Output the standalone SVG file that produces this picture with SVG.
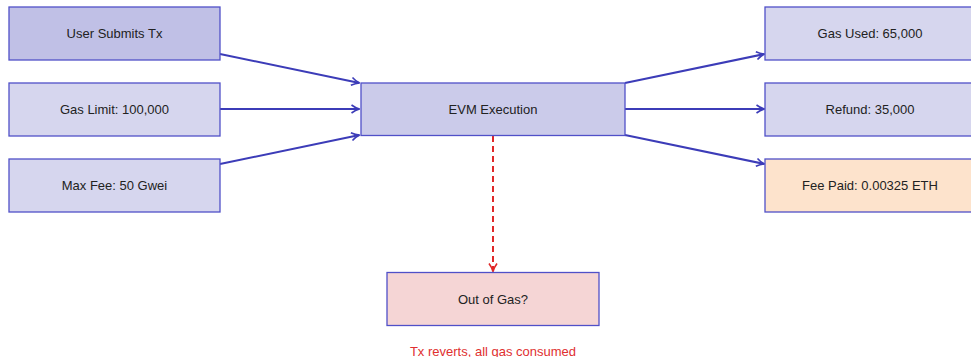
<svg xmlns="http://www.w3.org/2000/svg" width="971" height="357" viewBox="0 0 971 357">
<defs>
<style>
.box{stroke:#5050c8;stroke-width:1.3}
.lbl{font-family:"Liberation Sans",Arial,sans-serif;font-size:13px;fill:#222;text-anchor:middle;dominant-baseline:central}
.edge{stroke:#3c3cb8;stroke-width:2;fill:none}
.dash{stroke:#e02828;stroke-width:2;fill:none;stroke-dasharray:6,4}
</style>
<marker id="ah" viewBox="0 0 10 10" refX="9" refY="5" markerWidth="10" markerHeight="10" markerUnits="userSpaceOnUse" orient="auto">
<path d="M1,1 Q5,4 9,5 Q5,6 1,9" fill="none" stroke="#3c3cb8" stroke-width="1.6"/>
</marker>
<marker id="ahr" viewBox="0 0 10 10" refX="9" refY="5" markerWidth="10" markerHeight="10" markerUnits="userSpaceOnUse" orient="auto">
<path d="M1,1 Q5,4 9,5 Q5,6 1,9" fill="none" stroke="#e02828" stroke-width="1.6"/>
</marker>
</defs>
<rect width="971" height="357" fill="#ffffff"/>
<g id="connectors">
<line class="edge" x1="220" y1="54" x2="359.5" y2="83" marker-end="url(#ah)"/>
<line class="edge" x1="220" y1="109" x2="359.5" y2="109" marker-end="url(#ah)"/>
<line class="edge" x1="220" y1="164" x2="359.5" y2="135" marker-end="url(#ah)"/>
<line class="edge" x1="625" y1="83" x2="764.5" y2="54" marker-end="url(#ah)"/>
<line class="edge" x1="625" y1="109" x2="764.5" y2="109" marker-end="url(#ah)"/>
<line class="edge" x1="625" y1="135" x2="764.5" y2="164" marker-end="url(#ah)"/>
<line class="dash" x1="493" y1="136" x2="493" y2="271.5" marker-end="url(#ahr)"/>
</g>
<g id="user"><rect class="box" x="9" y="7" width="211" height="53" fill="#c0c0e6"/><text class="lbl" x="114.5" y="33.5">User Submits Tx</text></g>
<g id="gaslimit"><rect class="box" x="9" y="83" width="211" height="53" fill="#d6d6ee"/><text class="lbl" x="114.5" y="109.5">Gas Limit: 100,000</text></g>
<g id="maxfee"><rect class="box" x="9" y="159" width="211" height="53" fill="#d6d6ee"/><text class="lbl" x="114.5" y="185.5">Max Fee: 50 Gwei</text></g>
<g id="evm"><rect class="box" x="361" y="83" width="264" height="52.5" fill="#cbcbea"/><text class="lbl" x="493" y="109.5">EVM Execution</text></g>
<g id="gasused"><rect class="box" x="765" y="7" width="211" height="53" fill="#d6d6ee"/><text class="lbl" x="870" y="33.5">Gas Used: 65,000</text></g>
<g id="refund"><rect class="box" x="765" y="83" width="211" height="53" fill="#d6d6ee"/><text class="lbl" x="870" y="109.5">Refund: 35,000</text></g>
<g id="feepaid"><rect class="box" x="765" y="159" width="211" height="53" fill="#fde3cc"/><text class="lbl" x="870" y="185.5">Fee Paid: 0.00325 ETH</text></g>
<g id="outofgas"><rect class="box" x="387" y="272.5" width="212" height="53" fill="#f5d5d5"/><text class="lbl" x="493" y="299">Out of Gas?</text></g>
<g id="note"><text class="lbl" x="493" y="351" style="fill:#e03030">Tx reverts, all gas consumed</text></g>
</svg>
